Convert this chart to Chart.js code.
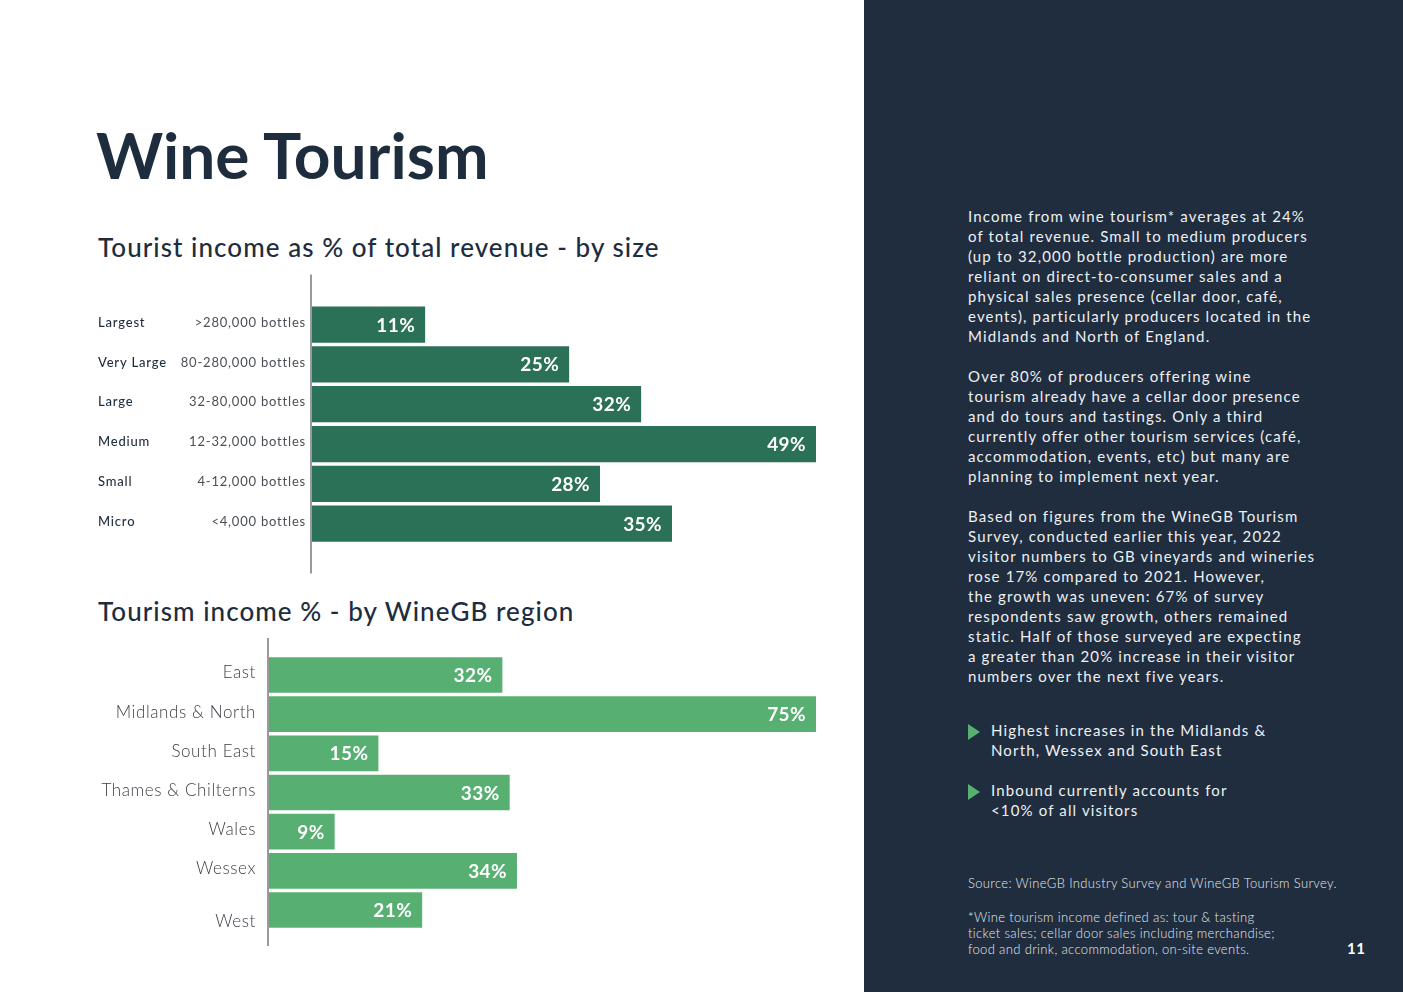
<!DOCTYPE html>
<html>
<head>
<meta charset="utf-8">
<script src="https://cdn.jsdelivr.net/npm/chart.js@4.4.1/dist/chart.umd.min.js"></script>
<style>
  html, body { margin:0; padding:0; width:1403px; height:992px; overflow:hidden; background:#ffffff; font-family: Lato, "Open Sans", sans-serif; }
  #title { position:absolute; left:96px; top:118px; font-size:64px; font-weight:700; color:#1e2d3e; letter-spacing:0px; line-height:74px; }
  .sub { position:absolute; left:98px; font-size:26px; font-weight:500; color:#1e2d3e; line-height:32px; letter-spacing:1.05px; }
  #sub1 { top:231px; }
  #sub2 { top:595px; }
  #c1wrap { position:absolute; left:90px; top:265px; width:740px; height:320px; }
  #c2wrap { position:absolute; left:90px; top:630px; width:740px; height:330px; }
  #panel { position:absolute; left:864px; top:0; width:539px; height:992px; background:#1f2d3f; }
  .ptext { position:absolute; left:968px; color:#eef0f2; font-size:15px; line-height:20px; letter-spacing:1.15px; white-space:pre; }
  .bullet { position:absolute; left:968px; width:0; height:0; border-top:8px solid transparent; border-bottom:8px solid transparent; border-left:12px solid #57b072; }
  .btext { position:absolute; left:991px; color:#eef0f2; font-size:15px; line-height:20px; letter-spacing:1.15px; white-space:pre; }
  .small { position:absolute; left:968px; color:#e6e9ec; font-size:13px; line-height:16px; letter-spacing:0.35px; white-space:pre; font-weight:300; }
  #pnum { position:absolute; left:1347px; top:939px; color:#ffffff; font-size:15px; font-weight:700; letter-spacing:0.5px; }
</style>
</head>
<body>
<div id="title">Wine Tourism</div>
<div class="sub" id="sub1">Tourist income as % of total revenue - by size</div>
<div class="sub" id="sub2">Tourism income % - by WineGB region</div>
<div id="c1wrap"><canvas id="c1"></canvas></div>
<div id="c2wrap"><canvas id="c2"></canvas></div>

<div id="panel"></div>
<div class="ptext" style="top:206px;">Income from wine tourism* averages at 24%
of total revenue. Small to medium producers
(up to 32,000 bottle production) are more
reliant on direct-to-consumer sales and a
physical sales presence (cellar door, café,
events), particularly producers located in the
Midlands and North of England.

Over 80% of producers offering wine
tourism already have a cellar door presence
and do tours and tastings. Only a third
currently offer other tourism services (café,
accommodation, events, etc) but many are
planning to implement next year.

Based on figures from the WineGB Tourism
Survey, conducted earlier this year, 2022
visitor numbers to GB vineyards and wineries
rose 17% compared to 2021. However,
the growth was uneven: 67% of survey
respondents saw growth, others remained
static. Half of those surveyed are expecting
a greater than 20% increase in their visitor
numbers over the next five years.</div>

<div class="bullet" style="top:724px;"></div>
<div class="btext" style="top:720px;">Highest increases in the Midlands &amp;
North, Wessex and South East</div>
<div class="bullet" style="top:784px;"></div>
<div class="btext" style="top:780px;">Inbound currently accounts for
&lt;10% of all visitors</div>

<div class="small" style="top:875px;">Source: WineGB Industry Survey and WineGB Tourism Survey.</div>
<div class="small" style="top:909px;">*Wine tourism income defined as: tour &amp; tasting
ticket sales; cellar door sales including merchandise;
food and drink, accommodation, on-site events.</div>
<div id="pnum">11</div>

<script>
// ---- Data ----
const sizeNames = ["Largest", "Very Large", "Large", "Medium", "Small", "Micro"];
const sizeBottles = [">280,000 bottles", "80-280,000 bottles", "32-80,000 bottles", "12-32,000 bottles", "4-12,000 bottles", "<4,000 bottles"];
const sizeValues = [11, 25, 32, 49, 28, 35];

const regions = ["East", "Midlands & North", "South East", "Thames & Chilterns", "Wales", "Wessex", "West"];
const regionValues = [32, 75, 15, 33, 9, 34, 21];

// ---- Plugins ----
const valueLabels = {
  id: 'valueLabels',
  afterDatasetsDraw(chart) {
    const ctx = chart.ctx;
    const meta = chart.getDatasetMeta(0);
    const data = chart.data.datasets[0].data;
    ctx.save();
    ctx.fillStyle = '#ffffff';
    ctx.font = '700 19px Lato, "Open Sans", sans-serif';
    ctx.letterSpacing = '0.4px';
    ctx.textAlign = 'right';
    ctx.textBaseline = 'middle';
    meta.data.forEach((bar, i) => {
      ctx.fillText(data[i] + '%', bar.x - 10, bar.y + 1);
    });
    ctx.restore();
  }
};

function axisLine(ext1, ext2) {
  return {
    id: 'axisLine',
    afterDraw(chart) {
      const ctx = chart.ctx, a = chart.chartArea;
      ctx.save();
      ctx.strokeStyle = '#9a9a9a';
      ctx.lineWidth = 2;
      ctx.beginPath();
      ctx.moveTo(a.left - 1, a.top - ext1);
      ctx.lineTo(a.left - 1, a.bottom + ext2);
      ctx.stroke();
      ctx.restore();
    }
  };
}

const sizeLabels = {
  id: 'sizeLabels',
  afterDraw(chart) {
    const ctx = chart.ctx, y = chart.scales.y;
    ctx.save();
    ctx.textBaseline = 'middle';
    ctx.letterSpacing = '0.8px';
    sizeNames.forEach((n, i) => {
      const py = y.getPixelForValue(i);
      ctx.font = '500 13px Lato, "Open Sans", sans-serif';
      ctx.fillStyle = '#1e2d3e';
      ctx.textAlign = 'left';
      ctx.fillText(n, 8, py - 2);
      ctx.font = '400 13px Lato, "Open Sans", sans-serif';
      ctx.fillStyle = '#4a4f55';
      ctx.textAlign = 'right';
      ctx.fillText(sizeBottles[i], 216, py - 2);
    });
    ctx.restore();
  }
};

const regionLabels = {
  id: 'regionLabels',
  afterDraw(chart) {
    const ctx = chart.ctx, y = chart.scales.y;
    const lastShift = 14; // the last label sits a little lower in the original
    ctx.save();
    ctx.textBaseline = 'middle';
    ctx.font = '300 17px Lato, "Open Sans", sans-serif';
    ctx.letterSpacing = '0.6px';
    ctx.fillStyle = '#3a3f45';
    ctx.textAlign = 'right';
    regions.forEach((n, i) => {
      const py = y.getPixelForValue(i) + (i === regions.length - 1 ? lastShift : 0);
      ctx.fillText(n, 166, py - 2);
    });
    ctx.restore();
  }
};

function makeChart(id, labels, values, color, max, padding, plugins) {
  return new Chart(document.getElementById(id), {
    type: 'bar',
    data: { labels: labels, datasets: [{ data: values, backgroundColor: color, borderWidth: 0, barPercentage: 0.91, categoryPercentage: 1.0 }] },
    options: {
      indexAxis: 'y',
      responsive: true,
      maintainAspectRatio: false,
      animation: false,
      layout: { padding: padding },
      plugins: { legend: { display: false }, tooltip: { enabled: false } },
      scales: {
        x: { display: false, min: 0, max: max },
        y: { display: false }
      }
    },
    plugins: plugins
  });
}

makeChart('c1', sizeNames, sizeValues, '#2b7157', 49,
  { left: 222, right: 14, top: 39.6, bottom: 41.4 },
  [valueLabels, axisLine(30, 30), sizeLabels]);

makeChart('c2', regions, regionValues, '#57b072', 75,
  { left: 179, right: 14, top: 25.4, bottom: 30.4 },
  [valueLabels, axisLine(17.5, 16.5), regionLabels]);
</script>
</body>
</html>
